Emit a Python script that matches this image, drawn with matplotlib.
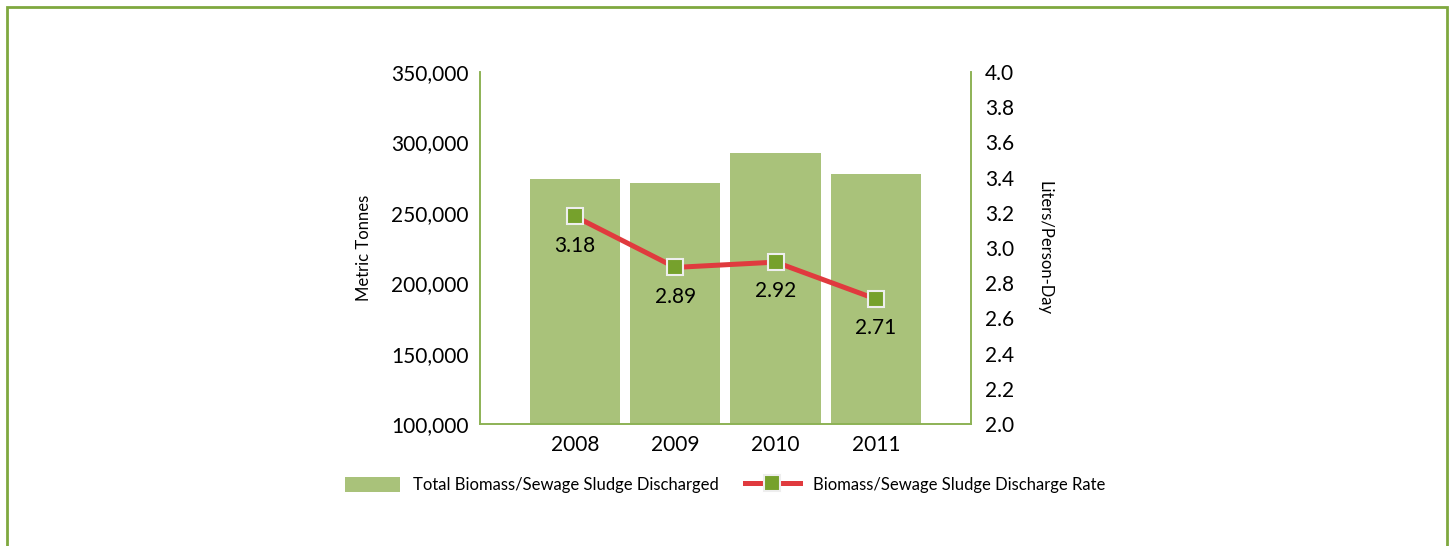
import numpy as np
import matplotlib.pyplot as plt
from matplotlib.patches import Rectangle

years = ['2008', '2009', '2010', '2011']
sludge_tonnes = [274300, 271400, 292800, 277800]
rate_lpd = [3.18, 2.89, 2.92, 2.71]

green_bar = '#A9C27A'
green_line = '#8DB255'
red = '#E03A3E'
marker_green = '#76A12C'

plt.rcParams['font.family'] = ['Lato', 'DejaVu Sans']

fig = plt.figure(figsize=(14.5, 5.46), dpi=100)
ax = fig.add_axes([0.331, 0.2234, 0.3386, 0.6446])
ax2 = ax.twinx()

x = np.arange(len(years))
bars = ax.bar(x, sludge_tonnes, width=0.9, color=green_bar,
              label='Total Biomass/Sewage Sludge Discharged', zorder=2)
ax.set_xlim(-0.945, 3.945)
ax.set_ylim(100000, 350000)
ax.set_yticks(np.arange(100000, 350001, 50000))
ax.set_yticklabels([f'{v:,}' for v in range(100000, 350001, 50000)], fontsize=15)
ax.set_xticks(x)
ax.set_xticklabels(years, fontsize=15)
ax.tick_params(length=0, pad=8)
ax.set_ylabel('Metric Tonnes', fontsize=12, labelpad=14)

line, = ax2.plot(x, rate_lpd, color=red, lw=3.6, marker='s', markersize=12,
                 markerfacecolor=marker_green, markeredgecolor='#EEEEEE',
                 markeredgewidth=1.5, label='Biomass/Sewage Sludge Discharge Rate',
                 zorder=3)
ax2.set_ylim(2.0, 4.0)
ax2.set_yticks(np.arange(2.0, 4.01, 0.2))
ax2.set_yticklabels([f'{v:.1f}' for v in np.arange(2.0, 4.01, 0.2)], fontsize=15)
ax2.tick_params(length=0, pad=10)
ax2.set_ylabel('Liters/Person-Day', fontsize=12, rotation=-90, labelpad=28)

for xi, v in zip(x, rate_lpd):
    ax2.annotate(f'{v:.2f}', (xi, v), xytext=(0, -21), textcoords='offset points',
                 ha='center', va='center', fontsize=15)

for a in (ax, ax2):
    a.spines['top'].set_visible(False)
    for s in ('left', 'right', 'bottom'):
        a.spines[s].set_color(green_line)
        a.spines[s].set_linewidth(1.2)

handles = [bars, line]
fig.legend(handles, [h.get_label() for h in handles], loc='center',
           bbox_to_anchor=(0.5, 0.112), ncol=2, frameon=False, fontsize=12,
           handlelength=3.3, handleheight=1.0, columnspacing=1.55, handletextpad=0.8)

# outer frame
fig.patches.append(Rectangle((7 / 1450, -0.1), 1440 / 1450, 1.1 - 7 / 546,
                             transform=fig.transFigure, fill=False,
                             edgecolor='#7FA83F', lw=2))

fig.savefig('out.png', dpi=100)
